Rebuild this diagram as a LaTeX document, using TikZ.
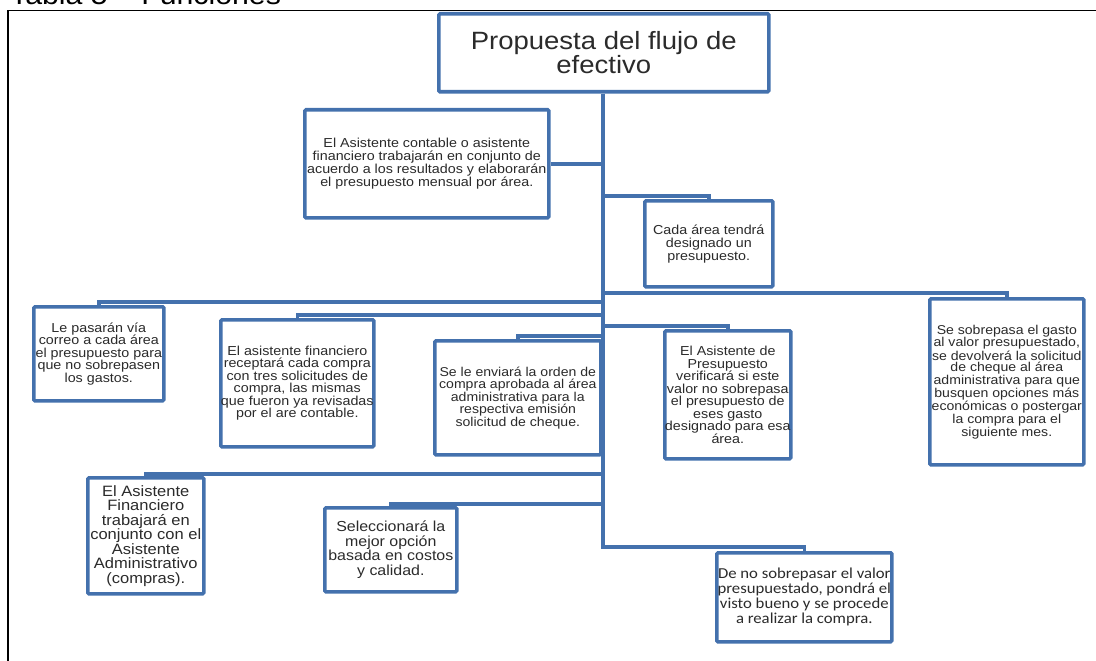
\documentclass[tikz,border=0pt]{standalone}
\usepackage{fontspec}
\setmainfont[FakeStretch=1.1]{Liberation Sans}
\newfontfamily\calib[FakeStretch=1.1]{Carlito}
\definecolor{bblue}{HTML}{4471AD}
\definecolor{txt}{HTML}{2B2B2B}
\begin{document}
\begin{tikzpicture}[x=1pt,y=1pt,
  box/.style={draw=bblue,line width=3.6pt,rounded corners=1.2pt,fill=white,text=txt,align=center,anchor=north west,inner sep=0pt},
  conn/.style={draw=bblue,line width=3.6pt}]
\useasboundingbox (0,0) rectangle (1096,-661);
\begin{scope}
\clip (0,0) rectangle (1096,-661);
\node[anchor=base west,inner sep=0pt,font=\fontsize{27.5}{27.5}\selectfont] (tab) at (10,-5) {Tabla 5 – Funciones};
\end{scope}
\draw[line width=1.2pt] (1096,-10.5) -- (8,-10.5) -- (8,-661);
% boxes
\node[box,minimum width=330,minimum height=78,font=\fontsize{25}{24.5}\selectfont] (title) at (437,-12) {Propuesta del flujo de\\efectivo};
\node[box,minimum width=244,minimum height=108,font=\fontsize{13}{13}\selectfont] (b2) at (303,-108) {El Asistente contable o asistente\\financiero trabajarán en conjunto de\\acuerdo a los resultados y elaborarán\\el presupuesto mensual por área.};
\node[box,minimum width=128,minimum height=86,font=\fontsize{13}{13}\selectfont] (b3) at (643,-199) {Cada área tendrá\\designado un\\presupuesto.};
\node[box,minimum width=154,minimum height=166,font=\fontsize{12.8}{11.2}\selectfont] (b4) at (928,-297) {Se sobrepasa el gasto\\al valor presupuestado,\\se devolverá la solicitud\\de cheque al área\\administrativa para que\\busquen opciones más\\económicas o postergar\\la compra para el\\siguiente mes.};
\node[box,minimum width=130,minimum height=94,font=\fontsize{13}{12.5}\selectfont] (b5) at (32,-305) {Le pasarán vía\\correo a cada área\\el presupuesto para\\que no sobrepasen\\los gastos.};
\node[box,minimum width=153,minimum height=127,font=\fontsize{13}{12.5}\selectfont] (b6) at (219,-318) {El asistente financiero\\receptará cada compra\\con tres solicitudes de\\compra, las mismas\\que fueron ya revisadas\\por el are contable.};
\node[box,minimum width=166,minimum height=114,font=\fontsize{12.8}{12.5}\selectfont] (b7) at (433,-339) {Se le enviará la orden de\\compra aprobada al área\\administrativa para la\\respectiva emisión\\solicitud de cheque.};
\node[box,minimum width=126,minimum height=128,font=\fontsize{13}{12.5}\selectfont] (b8) at (663,-329) {El Asistente de\\Presupuesto\\verificará si este\\valor no sobrepasa\\el presupuesto de\\eses gasto\\designado para esa\\área.};
\node[box,minimum width=116,minimum height=116,font=\fontsize{15}{14.5}\selectfont] (b9) at (86,-476) {El Asistente\\Financiero\\trabajará en\\conjunto con el\\Asistente\\Administrativo\\(compras).};
\node[box,minimum width=132,minimum height=84,font=\fontsize{14.5}{14.5}\selectfont] (b10) at (323,-506) {Seleccionará la\\mejor opción\\basada en costos\\y calidad.};
\node[box,minimum width=175,minimum height=89,font=\calib\fontsize{15.2}{15}\selectfont] (b11) at (715,-551) {De no sobrepasar el valor\\presupuestado, pondrá el\\visto bueno y se procede\\a realizar la compra.};
% junctions on trunk
\coordinate (j3) at (603,-196);
\coordinate (j4) at (603,-293);
\coordinate (j5) at (603,-302);
\coordinate (j6) at (603,-315);
\coordinate (j8) at (603,-326);
\coordinate (j7) at (603,-336);
\coordinate (j9) at (603,-474);
\coordinate (j10) at (603,-504);
\coordinate (j11) at (603,-547);
% connectors
\draw[conn] (title.south -| j11) -- (j11) -| (b11.north);
\draw[conn] (b2.east) -- (b2.east -| j11);
\draw[conn] (j3) -| (b3.north);
\draw[conn] (j4) -| (b4.north);
\draw[conn] (j5) -| (b5.north);
\draw[conn] (j6) -| (b6.north);
\draw[conn] (j8) -| (b8.north);
\draw[conn] (j7) -| (b7.north);
\draw[conn] (j9) -| (b9.north);
\draw[conn] (j10) -| (b10.north);
\end{tikzpicture}
\end{document}
